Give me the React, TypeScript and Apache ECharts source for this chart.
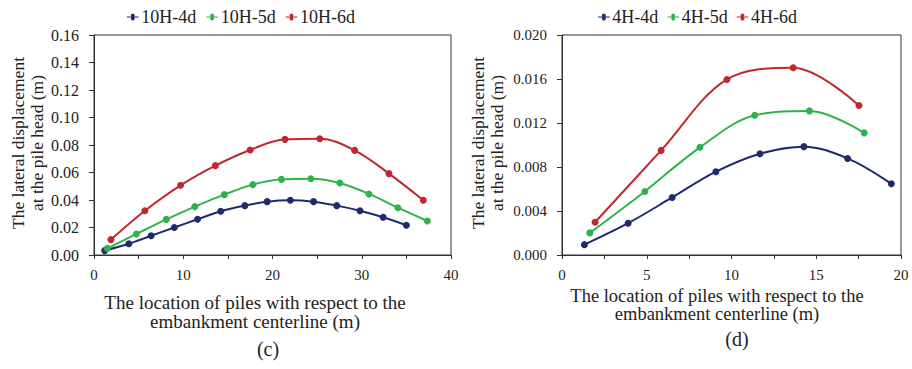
import React, { useEffect, useRef } from "react";
import * as echarts from "echarts";

// Panel (c)
const cLegend = ["10H-4d", "10H-5d", "10H-6d"];
const c4dX = [1.2, 3.9, 6.4, 9.0, 11.6, 14.2, 16.9, 19.4, 22.0, 24.6, 27.2, 29.8, 32.4, 35.0];
const c4dY = [0.0032, 0.0082, 0.014, 0.02, 0.026, 0.0318, 0.0359, 0.0388, 0.0398, 0.0388, 0.0359, 0.0322, 0.0274, 0.0216];
const c5dX = [1.5, 4.75, 8.1, 11.3, 14.6, 17.8, 21.0, 24.3, 27.55, 30.8, 34.05, 37.35];
const c5dY = [0.0048, 0.0153, 0.0259, 0.0352, 0.0439, 0.0512, 0.055, 0.0555, 0.0524, 0.0444, 0.0344, 0.0247];
const c6dX = [1.9, 5.7, 9.7, 13.6, 17.5, 21.4, 25.3, 29.2, 33.05, 36.9];
const c6dY = [0.0112, 0.0322, 0.0507, 0.065, 0.0764, 0.0841, 0.0846, 0.0761, 0.0592, 0.0398];

// Panel (d)
const dLegend = ["4H-4d", "4H-5d", "4H-6d"];
const d4dX = [1.32, 3.9, 6.5, 9.08, 11.68, 14.27, 16.85, 19.43];
const d4dY = [0.00094, 0.00289, 0.00523, 0.00757, 0.00921, 0.00985, 0.00878, 0.00647];
const d5dX = [1.64, 4.89, 8.14, 11.37, 14.6, 17.83];
const d5dY = [0.00201, 0.00578, 0.00979, 0.0127, 0.0131, 0.0111];
const d6dX = [1.95, 5.85, 9.73, 13.64, 17.52];
const d6dY = [0.00298, 0.00951, 0.01596, 0.01702, 0.01359];

const yTitle = "The lateral displacement\nat the pile head (m)";
const xTitle = "The location of piles with respect to the\nembankment centerline (m)";

const COLORS = ["#1F2A6E", "#2DB34A", "#C0282D"];
const FONT = "Liberation Serif";
const TXT = "#222";
const AX = "#333";

const zip = (xs: number[], ys: number[]) => xs.map((x, i) => [x, ys[i]]);

export default function App() {
  const ref = useRef<HTMLDivElement>(null);
  useEffect(() => {
    document.body.style.margin = "0";
    const chart = echarts.init(ref.current!, null, { renderer: "svg" });
    const mkSeries = (name: string, data: number[][], idx: number, color: string) => ({
      name,
      type: "line",
      xAxisIndex: idx,
      yAxisIndex: idx,
      data,
      smooth: 0.35,
      symbol: "circle",
      symbolSize: 7,
      lineStyle: { color, width: 2 },
      itemStyle: { color },
    });
    const xAxisBase = (gi: number, max: number, interval: number, labelEvery: number) => ({
      type: "value",
      gridIndex: gi,
      min: 0,
      max,
      interval,
      axisLine: { show: true, lineStyle: { color: AX, width: 1 } },
      axisTick: { show: true, inside: false, length: 4, lineStyle: { color: AX } },
      splitLine: { show: false },
      axisLabel: {
        color: TXT,
        fontFamily: FONT,
        fontSize: 15,
        margin: 12,
        formatter: (v: number) => (Math.abs(v / labelEvery - Math.round(v / labelEvery)) < 1e-9 ? String(v) : ""),
      },
    });
    const yAxisBase = (gi: number, max: number, interval: number, digits: number, fs: number) => ({
      type: "value",
      gridIndex: gi,
      min: 0,
      max,
      interval,
      axisLine: { show: true, lineStyle: { color: AX, width: 1 } },
      axisTick: { show: true, inside: false, length: 5, lineStyle: { color: AX } },
      splitLine: { show: false },
      axisLabel: {
        color: TXT,
        fontFamily: FONT,
        fontSize: fs,
        margin: 15,
        formatter: (v: number) => v.toFixed(digits),
      },
    });
    const legendBase = (data: string[], left: number, gap: number) => ({
      data,
      top: 3,
      left,
      itemWidth: 15,
      itemHeight: 7,
      itemGap: gap,
      icon: "path://M0,3 L5.5,3 A2.5,2.5 0 1 1 9.5,3 L15,3 L15,4 L9.5,4 A2.5,2.5 0 1 1 5.5,4 L0,4 Z",
      textStyle: { color: TXT, fontFamily: FONT, fontSize: 18, padding: [0, 0, 0, -4] },
    });
    chart.setOption({
      animation: false,
      backgroundColor: "#fff",
      legend: [legendBase(cLegend, 122, 10), legendBase(dLegend, 593, 9)],
      grid: [
        { left: 94, top: 35, width: 357, height: 220, show: true, borderColor: AX, borderWidth: 1, backgroundColor: "transparent" },
        { left: 562, top: 35, width: 339, height: 220, show: true, borderColor: AX, borderWidth: 1, backgroundColor: "transparent" },
      ],
      xAxis: [xAxisBase(0, 40, 5, 10), xAxisBase(1, 20, 2.5, 5)],
      yAxis: [yAxisBase(0, 0.16, 0.02, 2, 16), yAxisBase(1, 0.02, 0.004, 3, 15)],
      series: [
        mkSeries(cLegend[0], zip(c4dX, c4dY), 0, COLORS[0]),
        mkSeries(cLegend[1], zip(c5dX, c5dY), 0, COLORS[1]),
        mkSeries(cLegend[2], zip(c6dX, c6dY), 0, COLORS[2]),
        mkSeries(dLegend[0], zip(d4dX, d4dY), 1, COLORS[0]),
        mkSeries(dLegend[1], zip(d5dX, d5dY), 1, COLORS[1]),
        mkSeries(dLegend[2], zip(d6dX, d6dY), 1, COLORS[2]),
      ],
      graphic: [
        {
          type: "text", x: 27, y: 143, rotation: Math.PI / 2,
          style: { text: yTitle, fill: TXT, fontFamily: FONT, fontSize: 17.5, align: "center", verticalAlign: "middle", lineHeight: 19 },
        },
        {
          type: "text", x: 487.5, y: 143, rotation: Math.PI / 2,
          style: { text: yTitle, fill: TXT, fontFamily: FONT, fontSize: 17.5, align: "center", verticalAlign: "middle", lineHeight: 19 },
        },
        {
          type: "text", x: 255, y: 312,
          style: { text: xTitle, fill: TXT, fontFamily: FONT, fontSize: 19, align: "center", verticalAlign: "middle", lineHeight: 19 },
        },
        {
          type: "text", x: 717, y: 305,
          style: { text: xTitle, fill: TXT, fontFamily: FONT, fontSize: 18.5, align: "center", verticalAlign: "middle", lineHeight: 18.5 },
        },
        {
          type: "text", x: 268, y: 349,
          style: { text: "(c)", fill: TXT, fontFamily: FONT, fontSize: 20, align: "center", verticalAlign: "middle" },
        },
        {
          type: "text", x: 737, y: 339,
          style: { text: "(d)", fill: TXT, fontFamily: FONT, fontSize: 20, align: "center", verticalAlign: "middle" },
        },
      ],
    });
    return () => chart.dispose();
  }, []);
  return <div ref={ref} style={{ width: 912, height: 369 }} />;
}
